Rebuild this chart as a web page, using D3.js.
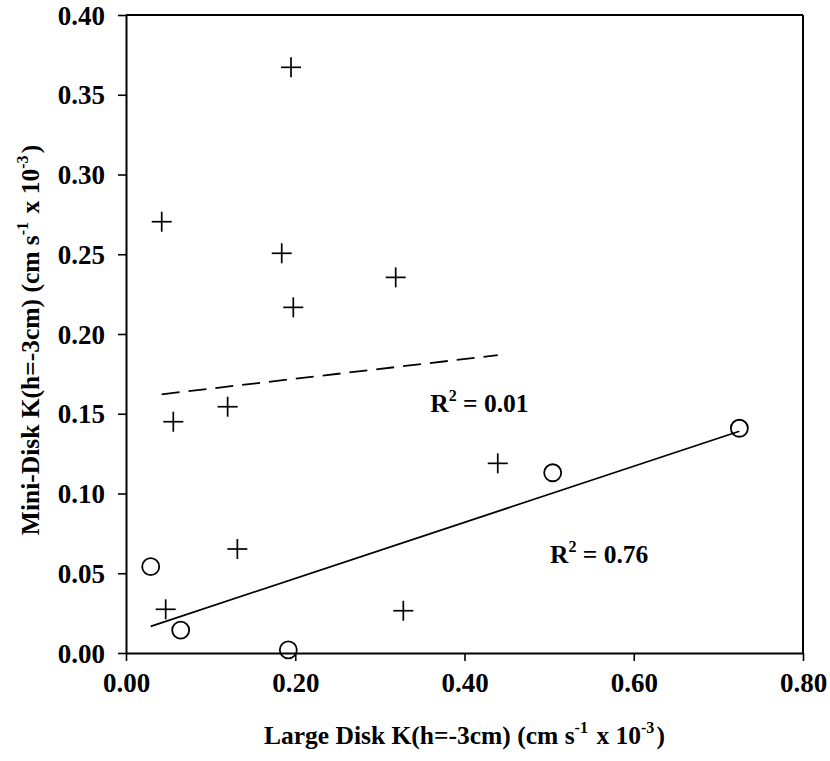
<!DOCTYPE html>
<html>
<head>
<meta charset="utf-8">
<script src="https://cdn.jsdelivr.net/npm/d3@7"></script>
<style>
  html, body { margin: 0; padding: 0; background: #fff; }
  svg { display: block; }
  text { font-family: "Liberation Serif", "Times New Roman", serif; font-weight: bold; fill: #000; }
</style>
</head>
<body>
<svg id="chart" width="830" height="761"></svg>
<script>
// Large-disk vs mini-disk conductivity, K(h = -3 cm), cm s^-1 x 10^-3

// Group A (crosses)
const crossX = [0.195, 0.0422, 0.184, 0.3187, 0.1977, 0.1201, 0.0559, 0.4393, 0.1316, 0.0469, 0.3277];
const crossY = [0.3672, 0.2704, 0.2506, 0.2355, 0.2167, 0.1544, 0.1450, 0.1189, 0.0652, 0.0274, 0.0265];

// Group B (open circles)
const circleX = [0.0292, 0.0646, 0.1918, 0.5042, 0.7248];
const circleY = [0.0541, 0.0144, 0.0019, 0.1130, 0.1409];

// Fitted line reported for group A (slope, intercept) and the R² labels
const dashedFit = [0.0617, 0.1596];
const r2Labels = ["0.01", "0.76"];

const xTicks = [0.00, 0.20, 0.40, 0.60, 0.80];
const yTicks = [0.00, 0.05, 0.10, 0.15, 0.20, 0.25, 0.30, 0.35, 0.40];

const svg = d3.select("#chart");
const margin = { left: 126, top: 15, right: 27, bottom: 108 };
const W = 830, H = 761;
const plotW = W - margin.left - margin.right;
const plotH = H - margin.top - margin.bottom;

const x = d3.scaleLinear().domain([0, 0.8]).range([margin.left, margin.left + plotW]);
const y = d3.scaleLinear().domain([0, 0.4]).range([margin.top + plotH, margin.top]);

const fmt = d3.format(".2f");

// Axes
const xAxis = svg.append("g")
  .attr("transform", `translate(0,${margin.top + plotH})`)
  .call(d3.axisBottom(x).tickValues(xTicks).tickFormat(fmt).tickSizeInner(8).tickSizeOuter(0).tickPadding(8));
const yAxis = svg.append("g")
  .attr("transform", `translate(${margin.left},0)`)
  .call(d3.axisLeft(y).tickValues(yTicks).tickFormat(fmt).tickSizeInner(8).tickSizeOuter(0).tickPadding(13));

[xAxis, yAxis].forEach(g => {
  g.select(".domain").attr("stroke", "#000").attr("stroke-width", 2);
  g.selectAll(".tick line").attr("stroke", "#000").attr("stroke-width", 1.6);
  g.selectAll(".tick text")
    .attr("font-family", "Liberation Serif, Times New Roman, serif")
    .attr("font-weight", "bold")
    .attr("font-size", 27)
    .attr("fill", "#000");
});
xAxis.selectAll(".tick text").attr("dy", "0.85em");
yAxis.selectAll(".tick text").attr("dy", "0.34em");

// Top and right frame lines
svg.append("line")
  .attr("x1", x(0)).attr("x2", x(0.8)).attr("y1", y(0.4)).attr("y2", y(0.4))
  .attr("stroke", "#000").attr("stroke-width", 2);
svg.append("line")
  .attr("x1", x(0.8)).attr("x2", x(0.8)).attr("y1", y(0.4)).attr("y2", y(0))
  .attr("stroke", "#000").attr("stroke-width", 2);

// Least-squares fit for the circle group
function linFit(xs, ys) {
  const n = xs.length;
  const mx = d3.mean(xs), my = d3.mean(ys);
  let sxy = 0, sxx = 0;
  for (let i = 0; i < n; i++) { sxy += (xs[i] - mx) * (ys[i] - my); sxx += (xs[i] - mx) ** 2; }
  const slope = sxy / sxx;
  return [slope, my - slope * mx];
}
const solidFit = linFit(circleX, circleY);

const line = d3.line().x(d => x(d[0])).y(d => y(d[1]));

const [cx0, cx1] = d3.extent(circleX);
svg.append("path")
  .datum([[cx0, solidFit[0] * cx0 + solidFit[1]], [cx1, solidFit[0] * cx1 + solidFit[1]]])
  .attr("d", line).attr("fill", "none").attr("stroke", "#000").attr("stroke-width", 1.8);

const [dx0, dx1] = d3.extent(crossX);
svg.append("path")
  .datum([[dx0, dashedFit[0] * dx0 + dashedFit[1]], [dx1, dashedFit[0] * dx1 + dashedFit[1]]])
  .attr("d", line).attr("fill", "none").attr("stroke", "#000").attr("stroke-width", 1.8)
  .attr("stroke-dasharray", "18,9");

// Crosses
const crossData = crossX.map((v, i) => [v, crossY[i]]);
const arm = 10;
const crosses = svg.append("g").selectAll("g").data(crossData).join("g")
  .attr("transform", d => `translate(${x(d[0])},${y(d[1])})`);
crosses.append("line").attr("x1", -arm).attr("x2", arm).attr("y1", 0).attr("y2", 0)
  .attr("stroke", "#000").attr("stroke-width", 1.7);
crosses.append("line").attr("x1", 0).attr("x2", 0).attr("y1", -arm).attr("y2", arm)
  .attr("stroke", "#000").attr("stroke-width", 1.7);

// Circles
const circleData = circleX.map((v, i) => [v, circleY[i]]);
svg.append("g").selectAll("circle").data(circleData).join("circle")
  .attr("cx", d => x(d[0])).attr("cy", d => y(d[1])).attr("r", 8.5)
  .attr("fill", "none").attr("stroke", "#000").attr("stroke-width", 1.8);

// R² annotations
function r2Text(px, py, val) {
  const t = svg.append("text").attr("x", px).attr("y", py).attr("font-size", 25.5);
  t.append("tspan").text("R");
  t.append("tspan").attr("font-size", 16).attr("dy", -11).text("2");
  t.append("tspan").attr("dy", 11).text(" = " + val);
}
r2Text(x(0.3595), y(0.1508), r2Labels[0]);
r2Text(x(0.5010), y(0.0566), r2Labels[1]);

// Axis titles with superscript exponents
function titleText(g, parts) {
  const t = g.append("text").attr("text-anchor", "middle").attr("font-size", 25.5);
  parts.forEach(p => {
    if (p.sup) {
      t.append("tspan").attr("font-size", 16).attr("dy", -11).text(p.s);
      t.append("tspan").attr("dy", 11).text("\u200A");
    } else {
      t.append("tspan").text(p.s);
    }
  });
  return t;
}
const titleParts = (name) => [
  { s: name + " K(h=-3cm) (cm s" }, { s: "-1", sup: true },
  { s: " x 10" }, { s: "-3", sup: true }, { s: ")" }
];

titleText(svg.append("g").attr("transform", `translate(${margin.left + plotW / 2},744)`), titleParts("Large Disk"));
titleText(svg.append("g").attr("transform", `translate(39,${margin.top + plotH / 2 + 6}) rotate(-90)`), titleParts("Mini-Disk"));
</script>
</body>
</html>
